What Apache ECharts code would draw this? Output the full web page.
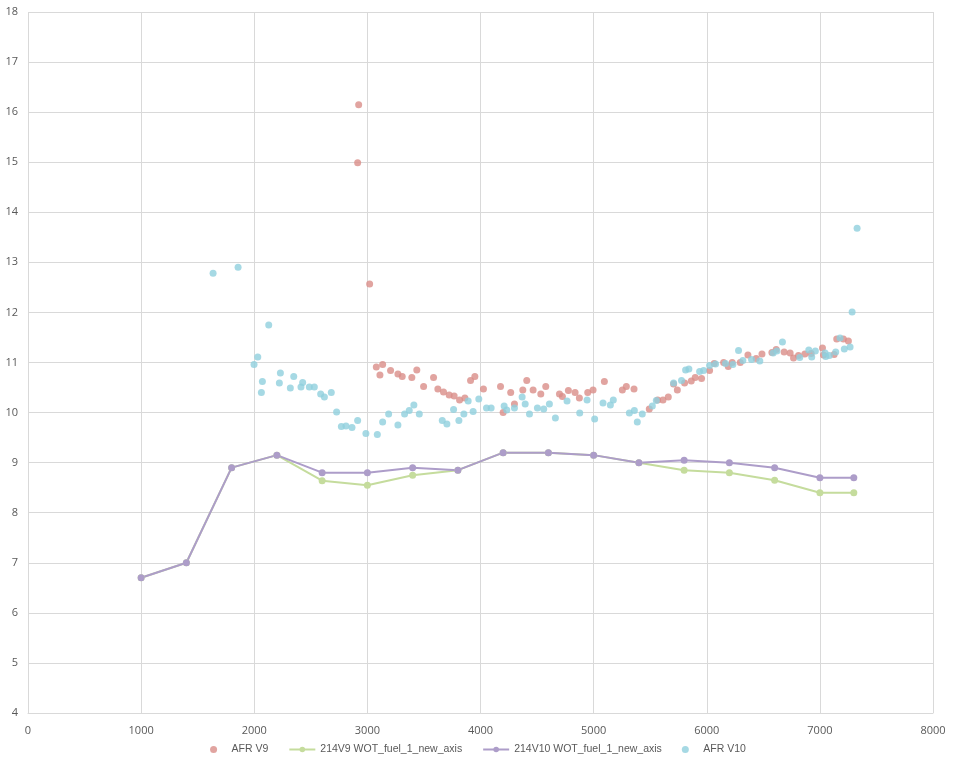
<!DOCTYPE html>
<html>
<head>
<meta charset="utf-8">
<script src="https://cdn.jsdelivr.net/npm/echarts@6/dist/echarts.min.js"></script>
<style>
  html, body { margin: 0; padding: 0; background: #fff; }
  #chart { width: 956px; height: 768px; }
</style>
</head>
<body>
<div id="chart"></div>
<script>
// AFR V9 scatter (rpm, afr)
const v9Rpm = [2923, 2914, 3020, 3079, 3111, 3135, 3205, 3270, 3308, 3393, 3437, 3497, 3585, 3623, 3673, 3723, 3767, 3815, 3862, 3912, 3950, 4026, 4177, 4200, 4267, 4300, 4374, 4409, 4465, 4533, 4577, 4698, 4724, 4777, 4836, 4874, 4948, 4995, 5095, 5254, 5289, 5357, 5492, 5566, 5613, 5660, 5707, 5740, 5804, 5863, 5898, 5954, 6025, 6066, 6149, 6190, 6225, 6296, 6364, 6437, 6488, 6576, 6614, 6684, 6737, 6767, 6811, 6867, 6923, 7023, 7032, 7126, 7149, 7208, 7252];
const v9Afr = [16.15, 14.99, 12.57, 10.91, 10.75, 10.96, 10.84, 10.77, 10.72, 10.70, 10.85, 10.52, 10.70, 10.47, 10.41, 10.35, 10.33, 10.25, 10.29, 10.64, 10.72, 10.47, 10.52, 10.00, 10.40, 10.17, 10.45, 10.64, 10.45, 10.37, 10.52, 10.37, 10.32, 10.44, 10.40, 10.29, 10.40, 10.45, 10.62, 10.45, 10.52, 10.47, 10.07, 10.25, 10.25, 10.31, 10.57, 10.45, 10.59, 10.63, 10.70, 10.68, 10.84, 10.98, 11.00, 10.92, 11.00, 11.00, 11.15, 11.08, 11.17, 11.20, 11.26, 11.21, 11.19, 11.09, 11.14, 11.17, 11.18, 11.29, 11.15, 11.16, 11.47, 11.47, 11.43];

// AFR V10 scatter (rpm, afr)
const v10Rpm = [1636, 1857, 2128, 2031, 1998, 2072, 2063, 2231, 2222, 2349, 2319, 2428, 2413, 2487, 2531, 2587, 2620, 2681, 2728, 2770, 2811, 2864, 2914, 2987, 3088, 3135, 3188, 3270, 3329, 3370, 3411, 3459, 3662, 3703, 3762, 3809, 3853, 3891, 3935, 3985, 4053, 4094, 4209, 4232, 4300, 4368, 4395, 4433, 4503, 4559, 4609, 4662, 4765, 4877, 4942, 5009, 5083, 5148, 5174, 5316, 5360, 5386, 5430, 5519, 5554, 5707, 5777, 5813, 5842, 5937, 5972, 6025, 6078, 6166, 6231, 6281, 6319, 6396, 6469, 6587, 6620, 6669, 6822, 6902, 6928, 6960, 7046, 7052, 7084, 7140, 7178, 7216, 7267, 7285, 7329];
const v10Afr = [12.78, 12.90, 11.75, 11.11, 10.96, 10.62, 10.40, 10.79, 10.59, 10.72, 10.49, 10.60, 10.51, 10.51, 10.51, 10.37, 10.31, 10.40, 10.01, 9.72, 9.73, 9.70, 9.84, 9.58, 9.56, 9.81, 9.97, 9.75, 9.97, 10.04, 10.15, 9.97, 9.84, 9.77, 10.06, 9.84, 9.97, 10.23, 10.02, 10.27, 10.09, 10.09, 10.13, 10.05, 10.09, 10.31, 10.17, 9.97, 10.09, 10.07, 10.17, 9.89, 10.23, 9.99, 10.25, 9.87, 10.19, 10.15, 10.25, 9.99, 10.04, 9.81, 9.97, 10.13, 10.24, 10.59, 10.64, 10.85, 10.87, 10.82, 10.84, 10.94, 10.97, 10.98, 10.96, 11.24, 11.04, 11.06, 11.03, 11.19, 11.23, 11.41, 11.10, 11.25, 11.11, 11.23, 11.19, 11.12, 11.14, 11.21, 11.49, 11.27, 11.31, 12.01, 13.68];

// fuel map lines
const mapRpm = [1000, 1400, 1800, 2200, 2600, 3000, 3400, 3800, 4200, 4600, 5000, 5400, 5800, 6200, 6600, 7000, 7300];
const wot214V9 = [6.7, 7.0, 8.9, 9.15, 8.64, 8.55, 8.75, 8.85, 9.2, 9.2, 9.15, 9.0, 8.85, 8.8, 8.65, 8.4, 8.4];
const wot214V10 = [6.7, 7.0, 8.9, 9.15, 8.8, 8.8, 8.9, 8.85, 9.2, 9.2, 9.15, 9.0, 9.05, 9.0, 8.9, 8.7, 8.7];

const zip = (xs, ys) => xs.map((x, i) => [x, ys[i]]);

const chart = echarts.init(document.getElementById('chart'));
const option = {
  animation: false,
  textStyle: { fontFamily: 'Open Sans' },
  grid: { left: 28, right: 23, top: 12, bottom: 55, containLabel: false },
  xAxis: {
    type: 'value', min: 0, max: 8000, interval: 1000,
    axisLine: { show: true, lineStyle: { color: '#d9d9d9' } },
    axisTick: { show: false },
    axisLabel: { color: '#595959', fontSize: 11, margin: 12, formatter: v => String(v) },
    splitLine: { lineStyle: { color: '#d9d9d9' } }
  },
  yAxis: {
    type: 'value', min: 4, max: 18, interval: 1,
    axisLine: { show: false },
    axisTick: { show: false },
    axisLabel: { color: '#595959', fontSize: 11, margin: 10 },
    splitLine: { lineStyle: { color: '#d9d9d9' } }
  },
  legend: {
    bottom: 8, itemGap: 20, itemWidth: 26, itemHeight: 7,
    textStyle: { color: '#595959', fontSize: 10.5, fontFamily: 'Liberation Sans' },
    data: [
      { name: 'AFR V9', icon: 'circle' },
      '214V9 WOT_fuel_1_new_axis',
      '214V10 WOT_fuel_1_new_axis',
      { name: 'AFR V10', icon: 'circle' }
    ]
  },
  series: [
    {
      name: 'AFR V9', type: 'scatter', symbolSize: 7,
      itemStyle: { color: '#d98d88' },
      data: zip(v9Rpm, v9Afr)
    },
    {
      name: '214V9 WOT_fuel_1_new_axis', type: 'line', symbol: 'circle', symbolSize: 7,
      lineStyle: { color: '#c5dc9d', width: 2 },
      itemStyle: { color: '#c5dc9d' },
      data: zip(mapRpm, wot214V9)
    },
    {
      name: '214V10 WOT_fuel_1_new_axis', type: 'line', symbol: 'circle', symbolSize: 7,
      lineStyle: { color: '#ad9dc9', width: 2 },
      itemStyle: { color: '#ad9dc9' },
      data: zip(mapRpm, wot214V10)
    },
    {
      name: 'AFR V10', type: 'scatter', symbolSize: 7,
      itemStyle: { color: '#90cfdd' },
      data: zip(v10Rpm, v10Afr)
    }
  ]
};
option && chart.setOption(option);
</script>
</body>
</html>
